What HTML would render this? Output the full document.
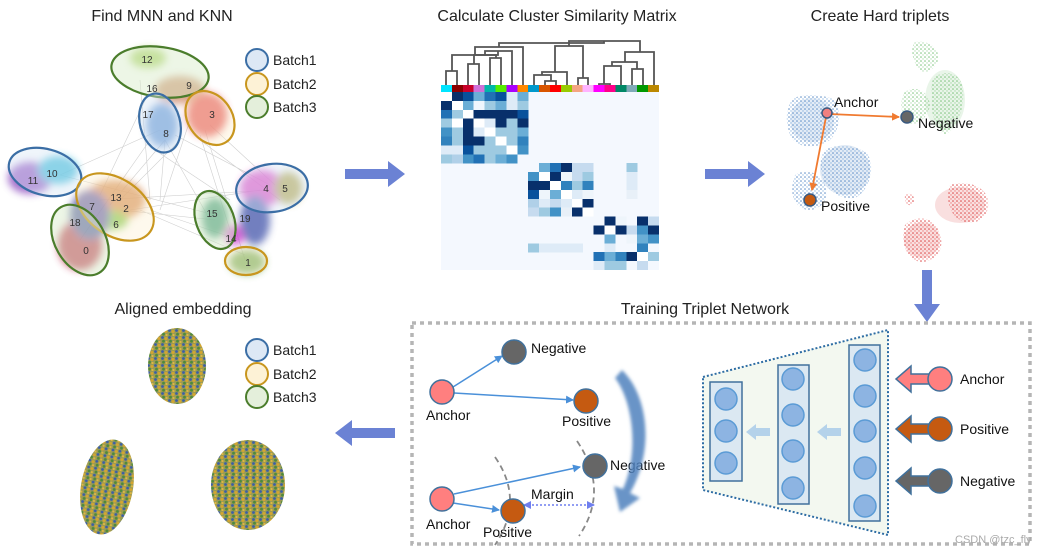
<!DOCTYPE html>
<html><head><meta charset="utf-8"><style>
html,body{margin:0;padding:0;background:#fff;}
svg{display:block;font-family:"Liberation Sans",Arial,sans-serif;}
</style></head><body>
<svg width="1043" height="554" viewBox="0 0 1043 554" xmlns="http://www.w3.org/2000/svg">
<defs>
<filter id="bl" x="-30%" y="-30%" width="160%" height="160%"><feGaussianBlur stdDeviation="4"/></filter>
<filter id="bl2" x="-30%" y="-30%" width="160%" height="160%"><feGaussianBlur stdDeviation="1.5"/></filter>
<filter id="bl3" x="-30%" y="-30%" width="160%" height="160%"><feGaussianBlur stdDeviation="3"/></filter>
<pattern id="mix" width="7" height="7" patternUnits="userSpaceOnUse">
<rect width="7" height="7" fill="#9a9a55"/><circle cx="1.5" cy="1.5" r="1.4" fill="#3a5ea8"/><circle cx="5" cy="2.5" r="1.5" fill="#d4a630"/><circle cx="2.5" cy="5.2" r="1.4" fill="#4f8a3a"/><circle cx="5.5" cy="6" r="1.1" fill="#e0b840"/></pattern>
<pattern id="bdot" width="4" height="4" patternUnits="userSpaceOnUse"><circle cx="1" cy="1" r="0.8" fill="#4a80c0"/><circle cx="3" cy="3" r="0.7" fill="#8ab4e0"/></pattern>
<pattern id="gdot" width="4" height="4" patternUnits="userSpaceOnUse"><circle cx="1" cy="1" r="0.8" fill="#6cbc6c"/><circle cx="3" cy="3" r="0.7" fill="#a8d8a8"/></pattern>
<pattern id="rdot" width="4" height="4" patternUnits="userSpaceOnUse"><circle cx="1" cy="1" r="0.8" fill="#d83030"/><circle cx="3" cy="3" r="0.7" fill="#ee8080"/></pattern>
<marker id="ab" markerWidth="8" markerHeight="8" refX="7" refY="4" orient="auto" markerUnits="userSpaceOnUse"><path d="M0,0 L8,4 L0,8 z" fill="#4a90d9"/></marker>
<marker id="ao" markerWidth="8" markerHeight="8" refX="7" refY="4" orient="auto" markerUnits="userSpaceOnUse"><path d="M0,0 L8,4 L0,8 z" fill="#f07a30"/></marker>
<marker id="ap" markerWidth="8" markerHeight="8" refX="7" refY="4" orient="auto-start-reverse" markerUnits="userSpaceOnUse"><path d="M0,0 L8,4 L0,8 z" fill="#6f7fef"/></marker>
</defs>

<g font-size="16" fill="#222" text-anchor="middle">
<text x="162" y="21">Find MNN and KNN</text>
<text x="557" y="21">Calculate Cluster Similarity Matrix</text>
<text x="880" y="21">Create Hard triplets</text>
<text x="183" y="314">Aligned embedding</text>
<text x="705" y="314">Training Triplet Network</text>
</g>

<!-- MNN graph -->
<g stroke="#bbb" stroke-width="0.6" opacity="0.7">
<path d="M160,130 L60,175 M165,140 L110,205 M165,140 L210,220 M175,135 L270,185 M210,125 L275,185 M205,130 L245,260 M150,140 L80,240 M120,210 L215,220 M130,210 L260,190 M140,210 L245,255 M60,175 L215,215 M165,140 L160,200 M200,135 L230,230 M180,140 L120,200 M100,200 L270,190 M150,210 L240,240 M140,80 L150,200 M150,90 L100,195 M190,120 L160,210 M155,150 L230,200 M200,140 L280,200"/>
</g>
<g filter="url(#bl)" opacity="0.8">
<ellipse cx="148" cy="58" rx="18" ry="10" fill="#a8d060"/>
<ellipse cx="180" cy="90" rx="25" ry="14" fill="#d09070"/>
<ellipse cx="207" cy="115" rx="20" ry="22" fill="#e04040"/>
<ellipse cx="162" cy="125" rx="16" ry="22" fill="#5a90d0"/>
<ellipse cx="30" cy="178" rx="22" ry="16" fill="#9050c0"/>
<ellipse cx="58" cy="170" rx="20" ry="14" fill="#30b8d8"/>
<ellipse cx="115" cy="200" rx="30" ry="20" fill="#d08040"/>
<ellipse cx="110" cy="220" rx="18" ry="10" fill="#70c030"/>
<ellipse cx="80" cy="245" rx="22" ry="25" fill="#c03050"/>
<ellipse cx="262" cy="188" rx="22" ry="18" fill="#e040c0"/>
<ellipse cx="288" cy="188" rx="14" ry="16" fill="#b0a040"/>
<ellipse cx="215" cy="218" rx="13" ry="20" fill="#309070"/>
<ellipse cx="235" cy="235" rx="10" ry="10" fill="#d040d0"/>
<ellipse cx="247" cy="262" rx="18" ry="12" fill="#60a040"/>
<ellipse cx="255" cy="220" rx="15" ry="25" fill="#5060b0"/>
<ellipse cx="90" cy="215" rx="20" ry="25" fill="#5050a0"/>
</g>
<g stroke-width="2.2">
<ellipse cx="160" cy="72" rx="49" ry="25" transform="rotate(8 160 72)" fill="rgba(215,235,200,0.45)" stroke="#4b7d2c"/>
<ellipse cx="160" cy="123" rx="20" ry="30" transform="rotate(-15 160 123)" fill="rgba(215,230,245,0.4)" stroke="#3b6ea5"/>
<ellipse cx="210" cy="118" rx="22" ry="29" transform="rotate(-35 210 118)" fill="rgba(253,240,210,0.4)" stroke="#c8961e"/>
<ellipse cx="45" cy="172" rx="37" ry="23" transform="rotate(15 45 172)" fill="rgba(215,230,245,0.4)" stroke="#3b6ea5"/>
<ellipse cx="115" cy="207" rx="43" ry="28" transform="rotate(35 115 207)" fill="rgba(253,240,210,0.4)" stroke="#c8961e"/>
<ellipse cx="80" cy="240" rx="25" ry="38" transform="rotate(-30 80 240)" fill="rgba(215,235,200,0.45)" stroke="#4b7d2c"/>
<ellipse cx="272" cy="188" rx="36" ry="24" transform="rotate(-8 272 188)" fill="rgba(215,230,245,0.4)" stroke="#3b6ea5"/>
<ellipse cx="215" cy="220" rx="19" ry="30" transform="rotate(-20 215 220)" fill="rgba(215,235,200,0.45)" stroke="#4b7d2c"/>
<ellipse cx="246" cy="261" rx="21" ry="14" fill="rgba(253,240,210,0.4)" stroke="#c8961e"/>
</g>
<g font-size="10" fill="#333" text-anchor="middle">
<text x="147" y="63">12</text><text x="152" y="92">16</text><text x="189" y="89">9</text><text x="212" y="118">3</text>
<text x="148" y="118">17</text><text x="166" y="137">8</text><text x="52" y="177">10</text><text x="33" y="184">11</text>
<text x="116" y="201">13</text><text x="126" y="212">2</text><text x="92" y="210">7</text><text x="116" y="228">6</text>
<text x="75" y="226">18</text><text x="86" y="254">0</text><text x="266" y="192">4</text><text x="285" y="192">5</text>
<text x="212" y="217">15</text><text x="245" y="222">19</text><text x="231" y="242">14</text><text x="248" y="266">1</text>
</g>
<g stroke-width="2">
<circle cx="257" cy="60" r="11" fill="#dde8f5" stroke="#3b6ea5"/>
<circle cx="257" cy="84" r="11" fill="#fdf2d6" stroke="#c8961e"/>
<circle cx="257" cy="107" r="11" fill="#e4efdb" stroke="#4b7d2c"/>
</g>
<g font-size="14" fill="#222"><text x="273" y="65">Batch1</text><text x="273" y="89">Batch2</text><text x="273" y="112">Batch3</text></g>

<g fill="#6b82d4">
<path d="M345,169 L388,169 L388,161 L405,174 L388,187 L388,179 L345,179 z"/>
<path d="M705,169 L748,169 L748,161 L765,174 L748,187 L748,179 L705,179 z"/>
<path d="M922,270 L922,304 L914,304 L927,322 L940,304 L932,304 L932,270 z"/>
<path d="M395,428 L352,428 L352,420 L335,433 L352,446 L352,438 L395,438 z"/>
</g>

<!-- Heatmap -->
<rect x="441" y="92" width="218" height="178" fill="#f4f8fe"/>
<g shape-rendering="crispEdges">
<rect x="441.0" y="92" width="11" height="9" fill="#fff"/><rect x="451.9" y="92" width="11" height="9" fill="#08306b"/><rect x="462.8" y="92" width="11" height="9" fill="#08519c"/><rect x="473.7" y="92" width="11" height="9" fill="#6baed6"/><rect x="484.6" y="92" width="11" height="9" fill="#2171b5"/><rect x="495.5" y="92" width="11" height="9" fill="#08519c"/><rect x="506.4" y="92" width="11" height="9" fill="#deebf7"/><rect x="517.3" y="92" width="11" height="9" fill="#6baed6"/>
<rect x="441.0" y="100.9" width="11" height="9" fill="#08306b"/><rect x="451.9" y="100.9" width="11" height="9" fill="#fff"/><rect x="462.8" y="100.9" width="11" height="9" fill="#6baed6"/><rect x="473.7" y="100.9" width="11" height="9" fill="#f0f6fd"/><rect x="484.6" y="100.9" width="11" height="9" fill="#9ecae1"/><rect x="495.5" y="100.9" width="11" height="9" fill="#6baed6"/><rect x="506.4" y="100.9" width="11" height="9" fill="#deebf7"/><rect x="517.3" y="100.9" width="11" height="9" fill="#9ecae1"/>
<rect x="441.0" y="109.8" width="11" height="9" fill="#2171b5"/><rect x="451.9" y="109.8" width="11" height="9" fill="#9ecae1"/><rect x="462.8" y="109.8" width="11" height="9" fill="#fff"/><rect x="473.7" y="109.8" width="11" height="9" fill="#08306b"/><rect x="484.6" y="109.8" width="11" height="9" fill="#08306b"/><rect x="495.5" y="109.8" width="11" height="9" fill="#08306b"/><rect x="506.4" y="109.8" width="11" height="9" fill="#08306b"/><rect x="517.3" y="109.8" width="11" height="9" fill="#08519c"/>
<rect x="441.0" y="118.7" width="11" height="9" fill="#9ecae1"/><rect x="451.9" y="118.7" width="11" height="9" fill="#fff"/><rect x="462.8" y="118.7" width="11" height="9" fill="#08306b"/><rect x="473.7" y="118.7" width="11" height="9" fill="#fff"/><rect x="484.6" y="118.7" width="11" height="9" fill="#deebf7"/><rect x="495.5" y="118.7" width="11" height="9" fill="#08306b"/><rect x="506.4" y="118.7" width="11" height="9" fill="#9ecae1"/><rect x="517.3" y="118.7" width="11" height="9" fill="#08306b"/>
<rect x="441.0" y="127.6" width="11" height="9" fill="#4292c6"/><rect x="451.9" y="127.6" width="11" height="9" fill="#9ecae1"/><rect x="462.8" y="127.6" width="11" height="9" fill="#08306b"/><rect x="473.7" y="127.6" width="11" height="9" fill="#deebf7"/><rect x="484.6" y="127.6" width="11" height="9" fill="#fff"/><rect x="495.5" y="127.6" width="11" height="9" fill="#9ecae1"/><rect x="506.4" y="127.6" width="11" height="9" fill="#9ecae1"/><rect x="517.3" y="127.6" width="11" height="9" fill="#6baed6"/>
<rect x="441.0" y="136.5" width="11" height="9" fill="#3182bd"/><rect x="451.9" y="136.5" width="11" height="9" fill="#9ecae1"/><rect x="462.8" y="136.5" width="11" height="9" fill="#08306b"/><rect x="473.7" y="136.5" width="11" height="9" fill="#08306b"/><rect x="484.6" y="136.5" width="11" height="9" fill="#9ecae1"/><rect x="495.5" y="136.5" width="11" height="9" fill="#fff"/><rect x="506.4" y="136.5" width="11" height="9" fill="#9ecae1"/><rect x="517.3" y="136.5" width="11" height="9" fill="#3182bd"/>
<rect x="441.0" y="145.4" width="11" height="9" fill="#deebf7"/><rect x="451.9" y="145.4" width="11" height="9" fill="#deebf7"/><rect x="462.8" y="145.4" width="11" height="9" fill="#08519c"/><rect x="473.7" y="145.4" width="11" height="9" fill="#9ecae1"/><rect x="484.6" y="145.4" width="11" height="9" fill="#9ecae1"/><rect x="495.5" y="145.4" width="11" height="9" fill="#9ecae1"/><rect x="506.4" y="145.4" width="11" height="9" fill="#fff"/><rect x="517.3" y="145.4" width="11" height="9" fill="#4292c6"/>
<rect x="441.0" y="154.3" width="11" height="9" fill="#9ecae1"/><rect x="451.9" y="154.3" width="11" height="9" fill="#b0d0e8"/><rect x="462.8" y="154.3" width="11" height="9" fill="#4292c6"/><rect x="473.7" y="154.3" width="11" height="9" fill="#2171b5"/><rect x="484.6" y="154.3" width="11" height="9" fill="#9ecae1"/><rect x="495.5" y="154.3" width="11" height="9" fill="#6baed6"/><rect x="506.4" y="154.3" width="11" height="9" fill="#4292c6"/>
<rect x="539.1" y="163.2" width="11" height="9" fill="#6baed6"/><rect x="550.0" y="163.2" width="11" height="9" fill="#2171b5"/><rect x="560.9" y="163.2" width="11" height="9" fill="#08306b"/><rect x="571.8" y="163.2" width="11" height="9" fill="#c6dbef"/><rect x="582.7" y="163.2" width="11" height="9" fill="#c6dbef"/><rect x="626.3" y="163.2" width="11" height="9" fill="#9ecae1"/>
<rect x="528.2" y="172.1" width="11" height="9" fill="#4292c6"/><rect x="539.1" y="172.1" width="11" height="9" fill="#fff"/><rect x="550.0" y="172.1" width="11" height="9" fill="#08306b"/><rect x="560.9" y="172.1" width="11" height="9" fill="#eef5fb"/><rect x="571.8" y="172.1" width="11" height="9" fill="#c6dbef"/><rect x="582.7" y="172.1" width="11" height="9" fill="#9ecae1"/><rect x="626.3" y="172.1" width="11" height="9" fill="#deebf7"/>
<rect x="528.2" y="181.0" width="11" height="9" fill="#08306b"/><rect x="539.1" y="181.0" width="11" height="9" fill="#08306b"/><rect x="550.0" y="181.0" width="11" height="9" fill="#fff"/><rect x="560.9" y="181.0" width="11" height="9" fill="#3182bd"/><rect x="571.8" y="181.0" width="11" height="9" fill="#9ecae1"/><rect x="582.7" y="181.0" width="11" height="9" fill="#3182bd"/><rect x="626.3" y="181.0" width="11" height="9" fill="#deebf7"/>
<rect x="528.2" y="189.9" width="11" height="9" fill="#08519c"/><rect x="539.1" y="189.9" width="11" height="9" fill="#eef5fb"/><rect x="550.0" y="189.9" width="11" height="9" fill="#6baed6"/><rect x="560.9" y="189.9" width="11" height="9" fill="#fff"/><rect x="571.8" y="189.9" width="11" height="9" fill="#deebf7"/><rect x="582.7" y="189.9" width="11" height="9" fill="#eef5fb"/><rect x="626.3" y="189.9" width="11" height="9" fill="#e8f0f8"/>
<rect x="528.2" y="198.8" width="11" height="9" fill="#b0d0e8"/><rect x="539.1" y="198.8" width="11" height="9" fill="#deebf7"/><rect x="550.0" y="198.8" width="11" height="9" fill="#c6dbef"/><rect x="560.9" y="198.8" width="11" height="9" fill="#deebf7"/><rect x="571.8" y="198.8" width="11" height="9" fill="#fff"/><rect x="582.7" y="198.8" width="11" height="9" fill="#08306b"/>
<rect x="528.2" y="207.7" width="11" height="9" fill="#c6dbef"/><rect x="539.1" y="207.7" width="11" height="9" fill="#9ecae1"/><rect x="550.0" y="207.7" width="11" height="9" fill="#4292c6"/><rect x="560.9" y="207.7" width="11" height="9" fill="#e8f0f8"/><rect x="571.8" y="207.7" width="11" height="9" fill="#08306b"/><rect x="582.7" y="207.7" width="11" height="9" fill="#fff"/>
<rect x="604.5" y="216.6" width="11" height="9" fill="#08306b"/><rect x="615.4" y="216.6" width="11" height="9" fill="#eef5fb"/><rect x="637.2" y="216.6" width="11" height="9" fill="#08306b"/><rect x="648.1" y="216.6" width="11" height="9" fill="#c6dbef"/>
<rect x="593.6" y="225.5" width="11" height="9" fill="#08306b"/><rect x="604.5" y="225.5" width="11" height="9" fill="#fff"/><rect x="615.4" y="225.5" width="11" height="9" fill="#08306b"/><rect x="626.3" y="225.5" width="11" height="9" fill="#c6dbef"/><rect x="637.2" y="225.5" width="11" height="9" fill="#4292c6"/><rect x="648.1" y="225.5" width="11" height="9" fill="#08306b"/>
<rect x="604.5" y="234.4" width="11" height="9" fill="#6baed6"/><rect x="626.3" y="234.4" width="11" height="9" fill="#eef5fb"/><rect x="637.2" y="234.4" width="11" height="9" fill="#6baed6"/><rect x="648.1" y="234.4" width="11" height="9" fill="#4292c6"/>
<rect x="528.2" y="243.3" width="11" height="9" fill="#9ecae1"/><rect x="539.1" y="243.3" width="44" height="9" fill="#deebf7"/><rect x="604.5" y="243.3" width="11" height="9" fill="#deebf7"/><rect x="637.2" y="243.3" width="11" height="9" fill="#3182bd"/>
<rect x="593.6" y="252.2" width="11" height="9" fill="#2171b5"/><rect x="604.5" y="252.2" width="11" height="9" fill="#6baed6"/><rect x="615.4" y="252.2" width="11" height="9" fill="#3182bd"/><rect x="626.3" y="252.2" width="11" height="9" fill="#08306b"/><rect x="637.2" y="252.2" width="11" height="9" fill="#fff"/><rect x="648.1" y="252.2" width="11" height="9" fill="#9ecae1"/>
<rect x="593.6" y="261.1" width="11" height="9" fill="#deebf7"/><rect x="604.5" y="261.1" width="11" height="9" fill="#9ecae1"/><rect x="615.4" y="261.1" width="11" height="9" fill="#9ecae1"/><rect x="637.2" y="261.1" width="11" height="9" fill="#c6dbef"/>
<rect x="441.0" y="85" width="11" height="7" fill="#00e5ff"/><rect x="451.9" y="85" width="11" height="7" fill="#8b0000"/><rect x="462.8" y="85" width="11" height="7" fill="#c8002a"/><rect x="473.7" y="85" width="11" height="7" fill="#d070d8"/><rect x="484.6" y="85" width="11" height="7" fill="#00b8a8"/><rect x="495.5" y="85" width="11" height="7" fill="#55ee00"/><rect x="506.4" y="85" width="11" height="7" fill="#aa00ff"/><rect x="517.3" y="85" width="11" height="7" fill="#ff8800"/><rect x="528.2" y="85" width="11" height="7" fill="#0099cc"/><rect x="539.1" y="85" width="11" height="7" fill="#d95500"/><rect x="550.0" y="85" width="11" height="7" fill="#ff0000"/><rect x="560.9" y="85" width="11" height="7" fill="#99cc00"/><rect x="571.8" y="85" width="11" height="7" fill="#f4a582"/><rect x="582.7" y="85" width="11" height="7" fill="#ffb3ff"/><rect x="593.6" y="85" width="11" height="7" fill="#ff00ff"/><rect x="604.5" y="85" width="11" height="7" fill="#ff0088"/><rect x="615.4" y="85" width="11" height="7" fill="#008866"/><rect x="626.3" y="85" width="11" height="7" fill="#7faab8"/><rect x="637.2" y="85" width="11" height="7" fill="#009900"/><rect x="648.1" y="85" width="11" height="7" fill="#bb8800"/>
</g>
<g fill="none" stroke="#555" stroke-width="1.8">
<path d="M446,85 V71 H457 V85"/>
<path d="M468,85 V64 H479 V85"/>
<path d="M490,85 V58 H501 V85"/>
<path d="M474,64 V55 H496 V58"/>
<path d="M485,55 V51 H512 V85"/>
<path d="M452,71 V55 H498 V51"/>
<path d="M475,55 V47 H523 V85"/>
<path d="M545,85 V81 H556 V85"/>
<path d="M534,85 V75 H551 V81"/>
<path d="M567,85 V72 H542 V75"/>
<path d="M578,85 V78 H588 V85"/>
<path d="M555,72 V46 H583 V78"/>
<path d="M599,85 V84 H610 V85"/>
<path d="M604,84 V66 H621 V85"/>
<path d="M632,85 V69 H643 V85"/>
<path d="M612,66 V62 H637 V69"/>
<path d="M625,62 V52 H654 V85"/>
<path d="M569,46 V41 H640 V52"/>
<path d="M499,47 V43 H604 V41"/>
</g>

<!-- Hard triplets clouds -->
<g opacity="0.9">
<path d="M792,100 C800,92 825,95 835,100 C842,112 840,130 830,140 C815,150 795,148 790,135 C785,122 786,108 792,100 z" fill="url(#bdot)"/>
<path d="M825,150 C835,143 860,145 868,155 C875,168 870,190 855,198 C840,200 825,190 822,175 C820,165 820,156 825,150 z" fill="url(#bdot)"/>
<path d="M795,175 C805,168 820,172 825,185 C830,198 822,210 808,210 C795,208 788,195 795,175 z" fill="url(#bdot)"/>
<path d="M915,42 C925,40 940,45 938,60 C935,70 925,75 920,70 C912,62 910,48 915,42 z" fill="url(#gdot)"/>
<path d="M938,75 C950,70 962,75 963,90 C965,110 955,130 945,135 C935,130 930,110 932,95 C930,85 932,78 938,75 z" fill="url(#gdot)"/>
<path d="M905,92 C915,85 928,90 930,105 C928,120 912,130 905,120 C900,110 900,98 905,92 z" fill="url(#gdot)"/>
<path d="M950,185 C965,180 985,185 988,200 C990,215 980,225 965,222 C950,218 945,200 950,185 z" fill="url(#rdot)"/>
<path d="M905,195 C910,192 915,195 914,202 C910,208 904,205 905,195 z" fill="url(#rdot)"/>
<path d="M905,225 C915,215 935,215 940,235 C945,250 935,262 920,262 C905,258 900,240 905,225 z" fill="url(#rdot)"/>
</g>
<g opacity="0.15">
<ellipse cx="812" cy="120" rx="22" ry="22" fill="#4a80c0"/><ellipse cx="845" cy="170" rx="25" ry="25" fill="#4a80c0"/>
<ellipse cx="945" cy="100" rx="20" ry="30" fill="#6cbc6c"/><ellipse cx="960" cy="205" rx="25" ry="18" fill="#d83030"/><ellipse cx="922" cy="240" rx="18" ry="18" fill="#d83030"/>
</g>
<g stroke="#f07a30" stroke-width="1.8">
<line x1="829" y1="114" x2="899" y2="117" marker-end="url(#ao)"/>
<line x1="826" y1="117" x2="812" y2="190" marker-end="url(#ao)"/>
</g>
<circle cx="827" cy="113" r="5" fill="#f08080" stroke="#3a5a80" stroke-width="1.5"/>
<circle cx="907" cy="117" r="6" fill="#666" stroke="#3a5a80" stroke-width="1.5"/>
<circle cx="810" cy="200" r="6" fill="#c55a11" stroke="#3a5a80" stroke-width="1.5"/>
<g font-size="14" fill="#111"><text x="834" y="107">Anchor</text><text x="918" y="128">Negative</text><text x="821" y="211">Positive</text></g>

<!-- Aligned embedding -->
<ellipse cx="177" cy="366" rx="29" ry="38" fill="url(#mix)"/>
<ellipse cx="107" cy="487" rx="26" ry="48" transform="rotate(10 107 487)" fill="url(#mix)"/>
<ellipse cx="248" cy="485" rx="37" ry="45" fill="url(#mix)"/>
<g stroke-width="2">
<circle cx="257" cy="350" r="11" fill="#dde8f5" stroke="#3b6ea5"/>
<circle cx="257" cy="374" r="11" fill="#fdf2d6" stroke="#c8961e"/>
<circle cx="257" cy="397" r="11" fill="#e4efdb" stroke="#4b7d2c"/>
</g>
<g font-size="14" fill="#222"><text x="273" y="355">Batch1</text><text x="273" y="379">Batch2</text><text x="273" y="402">Batch3</text></g>

<rect x="412" y="323" width="618" height="221" fill="none" stroke="#b5b5b5" stroke-width="3.5" stroke-dasharray="4,4"/>

<g stroke="#4a90d9" stroke-width="1.5" fill="none">
<line x1="453" y1="387" x2="502" y2="356" marker-end="url(#ab)"/>
<line x1="454" y1="393" x2="573" y2="400" marker-end="url(#ab)"/>
<line x1="454" y1="494" x2="580" y2="467" marker-end="url(#ab)"/>
<line x1="453" y1="503" x2="499" y2="510" marker-end="url(#ab)"/>
</g>
<g fill="none" stroke="#888" stroke-width="1.8" stroke-dasharray="6,4">
<path d="M495,457 Q525,500 495,545"/>
<path d="M577,441 Q610,490 579,536"/>
</g>
<line x1="524" y1="505" x2="594" y2="505" stroke="#6f7fef" stroke-width="1.5" stroke-dasharray="2,2" marker-start="url(#ap)" marker-end="url(#ap)"/>
<g stroke="#41719c" stroke-width="1.5">
<circle cx="442" cy="392" r="12" fill="#ff7f7f"/>
<circle cx="514" cy="352" r="12" fill="#666"/>
<circle cx="586" cy="401" r="12" fill="#c55a11"/>
<circle cx="442" cy="499" r="12" fill="#ff7f7f"/>
<circle cx="513" cy="511" r="12" fill="#c55a11"/>
<circle cx="595" cy="466" r="12" fill="#666"/>
</g>
<g font-size="14" fill="#111">
<text x="426" y="420">Anchor</text><text x="531" y="353">Negative</text><text x="562" y="426">Positive</text>
<text x="426" y="529">Anchor</text><text x="483" y="537">Positive</text><text x="610" y="470">Negative</text>
<text x="531" y="499">Margin</text>
</g>
<g filter="url(#bl2)">
<path d="M622,370 C648,395 655,450 630,493 L640,498 L620,512 L614,486 L623,489 C640,450 632,400 615,378 z" fill="#4f81bd" opacity="0.85"/>
</g>

<path d="M703,377 L888,330 L888,535 L703,490 z" fill="#f3f8f0" stroke="#2e6da4" stroke-width="2" stroke-dasharray="2,2"/>
<g fill="#dbe8f2" stroke="#41719c" stroke-width="1.5">
<rect x="710" y="382" width="32" height="99"/>
<rect x="778" y="365" width="31" height="139"/>
<rect x="849" y="345" width="31" height="176"/>
</g>
<g fill="#8db4e2" stroke="#5b9bd5" stroke-width="1.5">
<circle cx="726" cy="399" r="11"/><circle cx="726" cy="431" r="11"/><circle cx="726" cy="463" r="11"/>
<circle cx="793" cy="379" r="11"/><circle cx="793" cy="415" r="11"/><circle cx="793" cy="451" r="11"/><circle cx="793" cy="488" r="11"/>
<circle cx="865" cy="360" r="11"/><circle cx="865" cy="396" r="11"/><circle cx="865" cy="431" r="11"/><circle cx="865" cy="468" r="11"/><circle cx="865" cy="506" r="11"/>
</g>
<g fill="#b4d2ea">
<path d="M770,428 L756,428 L756,424 L746,432 L756,440 L756,436 L770,436 z"/>
<path d="M841,428 L827,428 L827,424 L817,432 L827,440 L827,436 L841,436 z"/>
</g>
<g stroke="#41719c" stroke-width="1.5">
<path d="M931,374 L911,374 L911,366 L896,379 L911,392 L911,384 L931,384 z" fill="#ff7f7f"/>
<path d="M931,424 L911,424 L911,416 L896,429 L911,442 L911,434 L931,434 z" fill="#c55a11"/>
<path d="M931,476 L911,476 L911,468 L896,481 L911,494 L911,486 L931,486 z" fill="#666"/>
<circle cx="940" cy="379" r="12" fill="#ff7f7f"/>
<circle cx="940" cy="429" r="12" fill="#c55a11"/>
<circle cx="940" cy="481" r="12" fill="#666"/>
</g>
<g font-size="14" fill="#111"><text x="960" y="384">Anchor</text><text x="960" y="434">Positive</text><text x="960" y="486">Negative</text></g>
<text x="955" y="543" font-size="11" fill="#aaa">CSDN @tzc_fly</text>
</svg>
</body></html>
